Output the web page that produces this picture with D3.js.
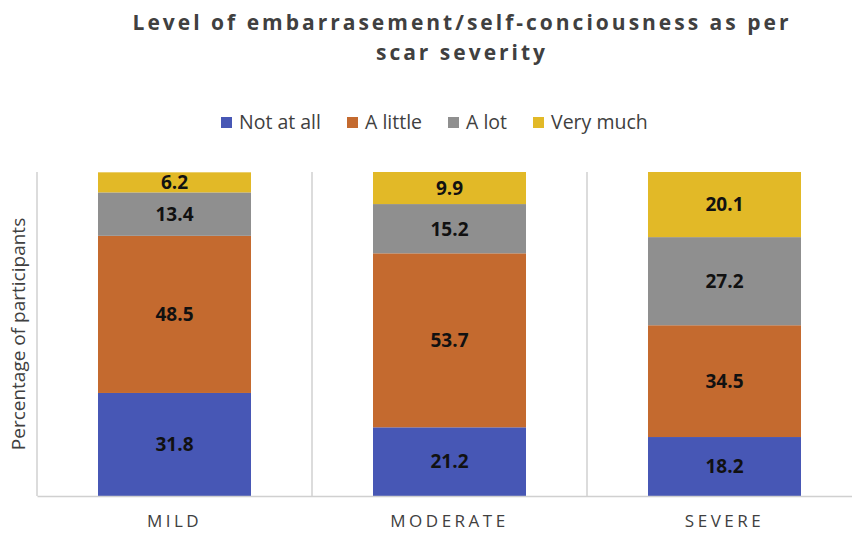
<!DOCTYPE html>
<html>
<head>
<meta charset="utf-8">
<script src="https://cdn.jsdelivr.net/npm/d3@7"></script>
<style>
  body { margin: 0; background: #fff; }
  svg { font-family: "Open Sans", "Noto Sans", sans-serif; }
</style>
</head>
<body>
<div id="chart"></div>
<script>
// data
const categories = ["MILD", "MODERATE", "SEVERE"];
const seriesNames = ["Not at all", "A little", "A lot", "Very much"];
const notAtAll = [31.8, 21.2, 18.2];
const aLittle = [48.5, 53.7, 34.5];
const aLot = [13.4, 15.2, 27.2];
const veryMuch = [6.2, 9.9, 20.1];
const colors = ["#4757b5", "#c46a2f", "#8f8f8f", "#e2b927"];

const width = 852, height = 534;
const plot = {left: 37, right: 862, top: 172, bottom: 496};

const svg = d3.select("#chart").append("svg")
    .attr("width", width)
    .attr("height", height);

// stack table
const rows = categories.map((c, i) => ({
  cat: c,
  "Not at all": notAtAll[i],
  "A little": aLittle[i],
  "A lot": aLot[i],
  "Very much": veryMuch[i]
}));
const stacked = d3.stack().keys(seriesNames)(rows);

let x = d3.scaleBand()
    .domain(categories)
    .range([plot.left, plot.right])
    .paddingInner(0)
    .paddingOuter(0);

let y = d3.scaleLinear()
    .domain([0, 100])
    .range([plot.bottom, plot.top]);

const barW = 153;

// separators between categories
const seps = categories.map(c => x(c)).concat([x(categories[categories.length - 1]) + x.bandwidth()]);
svg.selectAll("line.sep")
    .data(seps)
    .enter()
    .append("line")
      .attr("class", "sep")
      .attr("x1", d => d)
      .attr("x2", d => d)
      .attr("y1", plot.top)
      .attr("y2", plot.bottom)
      .attr("stroke", "#d0d0d0")
      .attr("stroke-width", 1.5);

// bars
stacked.forEach((s, si) => {
  svg.selectAll("rect.s" + si)
      .data(s)
      .enter()
      .append("rect")
        .attr("x", d => x(d.data.cat) + (x.bandwidth() - barW) / 2)
        .attr("y", d => y(d[1]))
        .attr("width", barW)
        .attr("height", d => y(d[0]) - y(d[1]))
        .attr("fill", colors[si]);

  svg.selectAll("text.l" + si)
      .data(s)
      .enter()
      .append("text")
        .attr("x", d => x(d.data.cat) + x.bandwidth() / 2)
        .attr("y", d => (y(d[0]) + y(d[1])) / 2)
        .attr("dy", "0.36em")
        .attr("text-anchor", "middle")
        .style("font-size", "19px")
        .style("font-weight", "bold")
        .style("fill", "#111")
        .text(d => (d[1] - d[0]).toFixed(1));
});

// bottom axis
svg.append("g")
    .attr("transform", `translate(0,${plot.bottom})`)
    .call(d3.axisBottom(x).tickSize(0).tickPadding(19))
    .call(g => g.select(".domain").attr("stroke", "#d0d0d0").attr("stroke-width", 1.5))
    .selectAll("text")
      .style("font-family", "'Open Sans', sans-serif")
      .style("font-size", "17px")
      .style("letter-spacing", "3.5px")
      .style("fill", "#404040");

// y axis title
svg.append("text")
    .attr("transform", `translate(25, ${(plot.top + plot.bottom) / 2}) rotate(-90)`)
    .attr("text-anchor", "middle")
    .style("font-size", "19px")
    .style("fill", "#404040")
    .text("Percentage of participants");

// title
const title = svg.append("text")
    .attr("text-anchor", "middle")
    .style("font-size", "21px")
    .style("font-weight", "bold")
    .style("letter-spacing", "3px")
    .style("fill", "#404040");
title.append("tspan").attr("x", 462).attr("y", 30).text("Level of embarrasement/self-conciousness as per");
title.append("tspan").attr("x", 462).attr("y", 60).text("scar severity");

// legend
const legendX = [221, 347, 448, 533];
const legend = svg.selectAll("g.leg")
    .data(seriesNames)
    .enter()
    .append("g")
      .attr("transform", (d, i) => `translate(${legendX[i]},122)`);
legend.append("rect")
    .attr("x", 0).attr("y", -5)
    .attr("width", 11).attr("height", 11)
    .attr("fill", (d, i) => colors[i]);
legend.append("text")
    .attr("x", 18)
    .attr("dy", "0.36em")
    .style("font-size", "19.5px")
    .style("fill", "#404040")
    .text(d => d);
</script>
</body>
</html>
